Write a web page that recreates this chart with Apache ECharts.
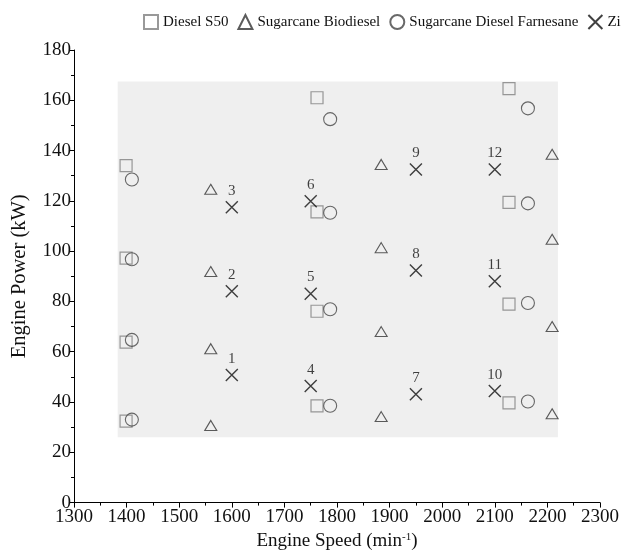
<!DOCTYPE html>
<html>
<head>
<meta charset="utf-8">
<script src="https://cdn.jsdelivr.net/npm/echarts@6/dist/echarts.min.js"></script>
<style>html,body{margin:0;padding:0;background:#fff;}#c{width:622px;height:556px;}</style>
</head>
<body>
<div id="c"></div>
<script>
// ---- data ----
const dieselS50Speed = [1399, 1399, 1399, 1399, 1762, 1762, 1762, 1762, 2127, 2127, 2127, 2127];
const dieselS50Power = [134, 97.2, 63.8, 32.4, 161, 115.6, 76.1, 38.5, 164.6, 119.4, 78.9, 39.7];

const biodieselSpeed = [1560, 1560, 1560, 1560, 1884, 1884, 1884, 1884, 2209, 2209, 2209, 2209];
const biodieselPower = [124.6, 91.9, 61.2, 30.7, 134.5, 101.4, 68, 34.2, 138.5, 104.7, 70, 35.3];

const farnesaneSpeed = [1410, 1410, 1410, 1410, 1787, 1787, 1787, 1787, 2163, 2163, 2163, 2163];
const farnesanePower = [128.5, 96.8, 64.7, 33, 152.5, 115.3, 76.9, 38.5, 156.8, 119, 79.4, 40.2];

const ziSpeed = [1600, 1600, 1600, 1750, 1750, 1750, 1950, 1950, 1950, 2100, 2100, 2100];
const ziPower = [50.7, 84.1, 117.5, 46.4, 83.1, 119.8, 43.1, 92.3, 132.5, 44.4, 88, 132.5];
const ziLabels = ['1', '2', '3', '4', '5', '6', '7', '8', '9', '10', '11', '12'];

const seriesNames = ['Diesel S50', 'Sugarcane Biodiesel', 'Sugarcane Diesel Farnesane', 'Zi'];
// shaded test region [speedMin, speedMax, powerMin, powerMax]
const shadedRegion = [1383, 2220, 26, 167.5];

const xTicks = {min: 1300, max: 2300, interval: 100};
const yTicks = {min: 0, max: 180, interval: 20};

// ---- build ----
const pair = (xs, ys) => xs.map((x, i) => [x, ys[i]]);
const FONT = 'Liberation Serif';
const xPath = 'path://M0,0L10,10M10,0L0,10';

const chart = echarts.init(document.getElementById('c'), null, {renderer: 'canvas'});
chart.setOption({
  animation: false,
  backgroundColor: '#fff',
  textStyle: {fontFamily: FONT},
  grid: {left: 74, right: 21, top: 50, bottom: 48},
  legend: {
    top: 9, left: 138, width: 484,
    itemWidth: 14, itemHeight: 14, itemGap: 9,
    textStyle: {fontFamily: FONT, fontSize: 15, color: '#111'},
    data: seriesNames
  },
  xAxis: {
    type: 'value', min: xTicks.min, max: xTicks.max, interval: xTicks.interval,
    name: 'Engine Speed (min{sup|-1})', nameLocation: 'middle', nameGap: 26,
    nameTextStyle: {fontFamily: FONT, fontSize: 19, color: '#111',
      rich: {sup: {fontFamily: FONT, fontSize: 11, verticalAlign: 'top', padding: [0,0,9,0], color: '#111'}}},
    axisLine: {lineStyle: {color: '#000', width: 1}},
    axisTick: {show: true, length: 5, lineStyle: {color: '#000'}},
    minorTick: {show: true, splitNumber: 2, length: 3, lineStyle: {color: '#000'}},
    splitLine: {show: false},
    axisLabel: {fontFamily: FONT, fontSize: 19, color: '#111', margin: 5, formatter: v => String(v)}
  },
  yAxis: {
    type: 'value', min: yTicks.min, max: yTicks.max, interval: yTicks.interval,
    name: 'Engine Power (kW)', nameLocation: 'middle', nameGap: 44,
    nameTextStyle: {fontFamily: FONT, fontSize: 20.5, color: '#111'},
    axisLine: {show: true, lineStyle: {color: '#000', width: 1}},
    axisTick: {show: true, length: 5, lineStyle: {color: '#000'}},
    minorTick: {show: true, splitNumber: 2, length: 3, lineStyle: {color: '#000'}},
    splitLine: {show: false},
    axisLabel: {fontFamily: FONT, fontSize: 19, color: '#111', margin: 3, formatter: v => String(v)}
  },
  series: [
    {
      name: seriesNames[0], type: 'scatter', symbol: 'rect', symbolSize: 12,
      itemStyle: {color: 'rgba(0,0,0,0)', borderColor: '#808080', borderWidth: 1.2},
      data: pair(dieselS50Speed, dieselS50Power), z: 3,
      markArea: {
        silent: true,
        itemStyle: {color: '#efefef'},
        data: [[{xAxis: shadedRegion[0], yAxis: shadedRegion[2]}, {xAxis: shadedRegion[1], yAxis: shadedRegion[3]}]]
      }
    },
    {
      name: seriesNames[1], type: 'scatter', symbol: 'triangle', symbolSize: [12, 10],
      itemStyle: {color: 'rgba(0,0,0,0)', borderColor: '#333', borderWidth: 1.1},
      data: pair(biodieselSpeed, biodieselPower), z: 3
    },
    {
      name: seriesNames[2], type: 'scatter', symbol: 'circle', symbolSize: 13,
      itemStyle: {color: 'rgba(0,0,0,0)', borderColor: '#444', borderWidth: 1.1},
      data: pair(farnesaneSpeed, farnesanePower), z: 3
    },
    {
      name: seriesNames[3], type: 'scatter', symbol: xPath, symbolSize: 12,
      itemStyle: {color: 'rgba(0,0,0,0)', borderColor: '#111', borderWidth: 1.4},
      data: ziSpeed.map((x, i) => ({value: [x, ziPower[i]], name: ziLabels[i]})),
      label: {show: true, position: 'top', distance: 2, formatter: p => p.name,
        fontFamily: FONT, fontSize: 15, color: '#111'},
      z: 4
    }
  ]
});
</script>
</body>
</html>
